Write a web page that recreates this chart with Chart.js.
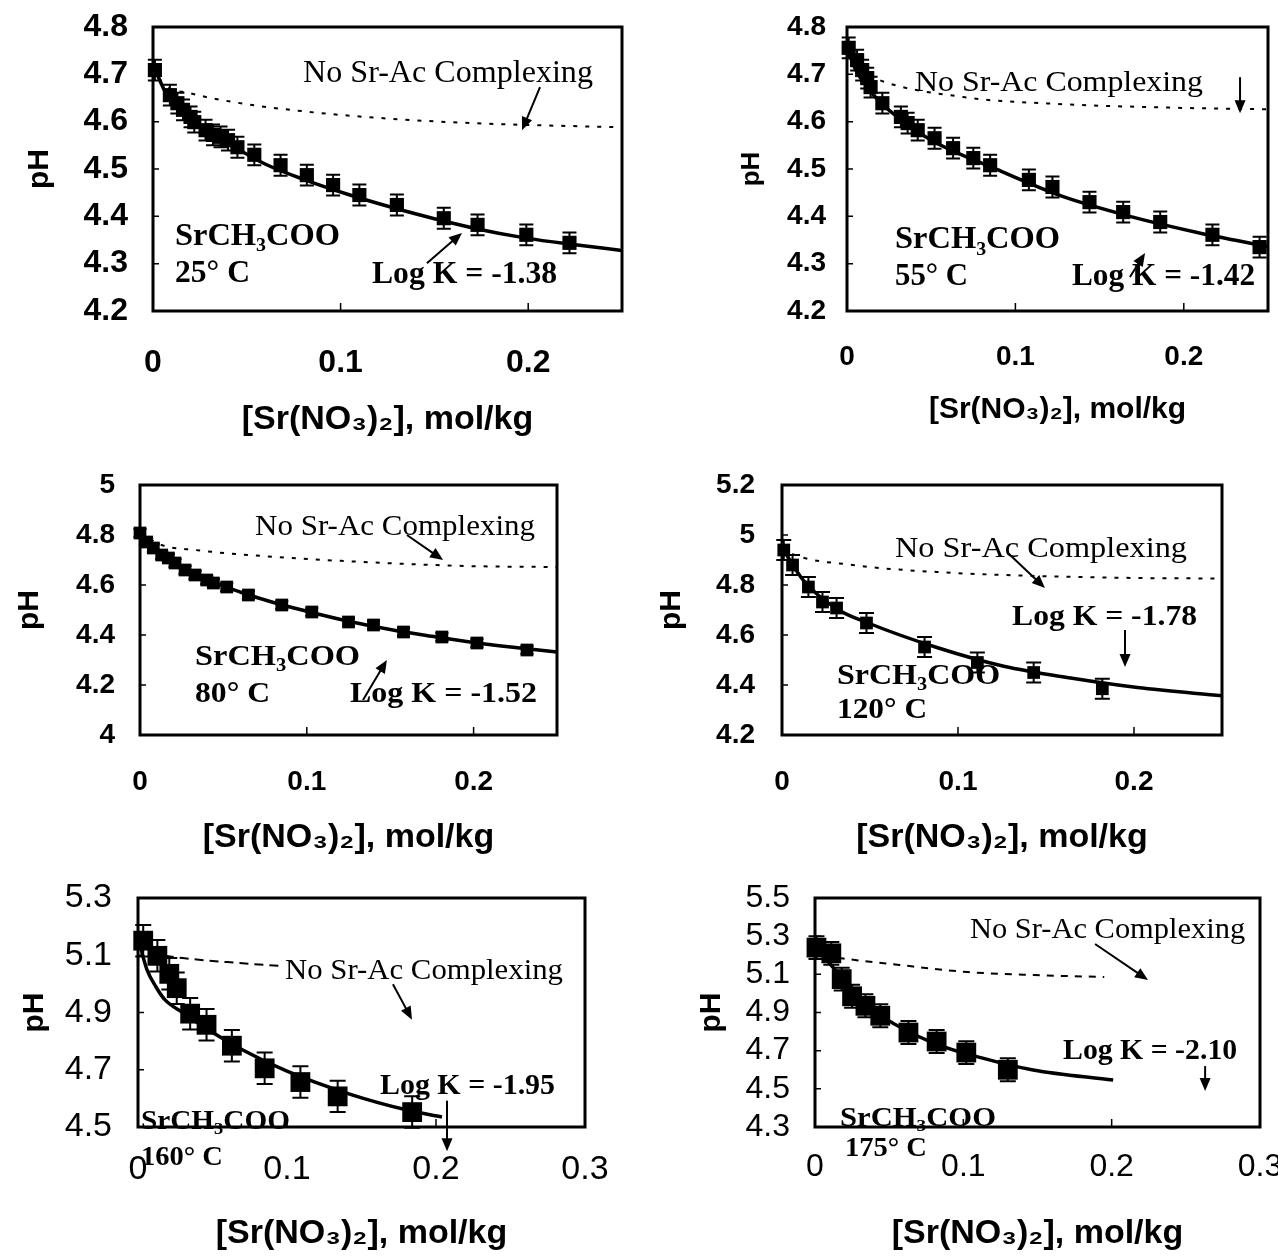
<!DOCTYPE html>
<html>
<head>
<meta charset="utf-8">
<script src="https://cdn.jsdelivr.net/npm/chart.js@4.4.1/dist/chart.umd.min.js"></script>
<style>
  html, body { margin: 0; padding: 0; background: #fff; }
  body { width: 1278px; height: 1257px; position: relative; overflow: hidden; }
  canvas { position: absolute; }
</style>
</head>
<body>
<script>
// ---- values ----
// 25 C
const x25 = [0.001, 0.009, 0.013, 0.016, 0.020, 0.022, 0.028, 0.032, 0.036, 0.040, 0.045, 0.054, 0.068, 0.082, 0.096, 0.110, 0.130, 0.155, 0.173, 0.199, 0.222];
const ph25 = [4.709, 4.656, 4.639, 4.625, 4.610, 4.599, 4.582, 4.572, 4.568, 4.561, 4.546, 4.530, 4.508, 4.487, 4.466, 4.445, 4.424, 4.396, 4.382, 4.361, 4.344];
const fitX25 = [0, 0.008, 0.019, 0.031, 0.046, 0.060, 0.081, 0.105, 0.129, 0.150, 0.171, 0.199, 0.225, 0.25];
const fitY25 = [4.72, 4.652, 4.607, 4.572, 4.540, 4.510, 4.477, 4.445, 4.417, 4.395, 4.375, 4.354, 4.340, 4.328];
const noX25 = [0, 0.005, 0.02, 0.045, 0.08, 0.12, 0.17, 0.25];
const noY25 = [4.71, 4.68, 4.66, 4.64, 4.622, 4.608, 4.597, 4.588];
const err25 = 0.022;
const xTicks25 = [0, 0.1, 0.2];
const yTicks25 = [4.2, 4.3, 4.4, 4.5, 4.6, 4.7, 4.8];
const xMax25 = 0.25;

// 55 C
const x55 = [0.001, 0.006, 0.009, 0.012, 0.014, 0.021, 0.032, 0.036, 0.042, 0.052, 0.063, 0.075, 0.085, 0.108, 0.122, 0.144, 0.164, 0.186, 0.217, 0.245];
const ph55 = [4.756, 4.730, 4.709, 4.692, 4.673, 4.639, 4.610, 4.597, 4.582, 4.565, 4.544, 4.523, 4.508, 4.477, 4.462, 4.430, 4.409, 4.388, 4.361, 4.335];
const fitX55 = [0, 0.005, 0.012, 0.02, 0.03, 0.049, 0.089, 0.128, 0.168, 0.208, 0.25];
const fitY55 = [4.755, 4.711, 4.673, 4.640, 4.610, 4.563, 4.499, 4.442, 4.400, 4.366, 4.336];
const noX55 = [0, 0.008, 0.015, 0.069, 0.128, 0.188, 0.25];
const noY55 = [4.755, 4.71, 4.694, 4.652, 4.637, 4.630, 4.626];
const err55 = 0.022;
const xTicks55 = [0, 0.1, 0.2];
const yTicks55 = [4.2, 4.3, 4.4, 4.5, 4.6, 4.7, 4.8];
const xMax55 = 0.25;

// 80 C
const x80 = [0, 0.004, 0.008, 0.013, 0.017, 0.021, 0.027, 0.033, 0.040, 0.044, 0.052, 0.065, 0.085, 0.103, 0.125, 0.140, 0.158, 0.181, 0.202, 0.232];
const ph80 = [4.808, 4.772, 4.748, 4.720, 4.708, 4.688, 4.660, 4.640, 4.620, 4.608, 4.592, 4.560, 4.520, 4.492, 4.452, 4.440, 4.412, 4.392, 4.368, 4.340];
const fitX80 = [0, 0.005, 0.013, 0.025, 0.04, 0.06, 0.08, 0.1, 0.125, 0.15, 0.175, 0.2, 0.225, 0.25];
const fitY80 = [4.81, 4.765, 4.725, 4.672, 4.622, 4.572, 4.53, 4.495, 4.455, 4.422, 4.395, 4.37, 4.35, 4.332];
const noX80 = [0, 0.013, 0.033, 0.073, 0.134, 0.195, 0.25];
const noY80 = [4.81, 4.76, 4.74, 4.716, 4.692, 4.676, 4.672];
const err80 = 0.016;
const xTicks80 = [0, 0.1, 0.2];
const yTicks80 = [4, 4.2, 4.4, 4.6, 4.8, 5];
const xMax80 = 0.25;

// 120 C
const x120 = [0.001, 0.006, 0.015, 0.023, 0.031, 0.048, 0.081, 0.111, 0.143, 0.182];
const ph120 = [4.94, 4.88, 4.792, 4.732, 4.708, 4.648, 4.552, 4.49, 4.45, 4.385];
const fitX120 = [0, 0.012, 0.031, 0.05, 0.088, 0.126, 0.164, 0.202, 0.25];
const fitY120 = [4.95, 4.82, 4.705, 4.645, 4.55, 4.475, 4.428, 4.39, 4.357];
const noX120 = [0, 0.0045, 0.04, 0.088, 0.145, 0.202, 0.25];
const noY120 = [4.95, 4.928, 4.88, 4.852, 4.836, 4.828, 4.826];
const err120 = 0.04;
const xTicks120 = [0, 0.1, 0.2];
const yTicks120 = [4.2, 4.4, 4.6, 4.8, 5, 5.2];
const xMax120 = 0.25;

// 160 C
const x160 = [0.0035, 0.013, 0.021, 0.026, 0.035, 0.046, 0.063, 0.085, 0.109, 0.134, 0.184];
const ph160 = [5.151, 5.098, 5.035, 4.985, 4.896, 4.857, 4.784, 4.705, 4.657, 4.607, 4.552];
const fitX160 = [0, 0.006, 0.012, 0.018, 0.03, 0.044, 0.07, 0.1, 0.142, 0.18, 0.204];
const fitY160 = [5.16, 5.05, 4.99, 4.945, 4.9, 4.85, 4.77, 4.695, 4.615, 4.56, 4.535];
const noX160 = [0.008, 0.03, 0.06, 0.097];
const noY160 = [5.105, 5.09, 5.076, 5.062];
const err160 = 0.055;
const xTicks160 = [0, 0.1, 0.2, 0.3];
const yTicks160 = [4.5, 4.7, 4.9, 5.1, 5.3];
const xMax160 = 0.3;

// 175 C
const x175 = [0.001, 0.011, 0.018, 0.025, 0.034, 0.044, 0.063, 0.082, 0.102, 0.13];
const ph175 = [5.24, 5.21, 5.075, 4.985, 4.935, 4.883, 4.795, 4.748, 4.69, 4.6];
const fitX175 = [0, 0.006, 0.012, 0.024, 0.046, 0.08, 0.113, 0.147, 0.201];
const fitY175 = [5.24, 5.19, 5.138, 5.018, 4.876, 4.74, 4.661, 4.599, 4.546];
const noX175 = [0.006, 0.012, 0.057, 0.103, 0.148, 0.195];
const noY175 = [5.2, 5.191, 5.149, 5.112, 5.096, 5.086];
const err175 = 0.06;
const xTicks175 = [0, 0.1, 0.2, 0.3];
const yTicks175 = [4.3, 4.5, 4.7, 4.9, 5.1, 5.3, 5.5];
const xMax175 = 0.3;

const SANS = "'Liberation Sans', Arial, Helvetica, sans-serif";
const SERIF = "'Liberation Serif', 'Times New Roman', Times, serif";
const X_TITLE = "[Sr(NO\u2083)\u2082], mol/kg";
const NO_CPX = "No Sr-Ac Complexing";
const SALT = ["SrCH", "_3", "COO"];

// text notes: parts, x0, x1 (data units), y (data units), font size, bold
function note(parts, x0, x1, y, size, bold) {
  return { parts: Array.isArray(parts) ? parts : [parts], x0, x1, y, size, bold };
}

// canvas: [left, top, width, height]; box: [left, top, right, bottom] (page px)
const panels = [
  {
    d: { x: x25, y: ph25, fitX: fitX25, fitY: fitY25, noX: noX25, noY: noY25, err: err25, xTicks: xTicks25, yTicks: yTicks25, xMax: xMax25 },
    L: { canvas: [0, -30, 640, 470], box: [153, 27, 622, 311], yLabRight: 128, xLabY: 363, titleY: 420, phX: 40,
         tickSize: 32, tickBold: true, titleSize: 34, phSize: 30, mark: 10, cap: 14, fitW: 3.5, dash: [4, 8] },
    notes: [
      note(NO_CPX, 0.080, 0.2345, 4.705, 31, false),
      note(SALT, 0.0117, 0.0997, 4.361, 31, true),
      note("25\u00b0 C", 0.0117, 0.0517, 4.282, 31, true),
      note("Log K = -1.38", 0.1167, 0.2154, 4.280, 31, true),
    ],
    arrows: [[0.2063, 4.673, 0.1967, 4.582], [0.146, 4.301, 0.1647, 4.365]],
  },
  {
    d: { x: x55, y: ph55, fitX: fitX55, fitY: fitY55, noX: noX55, noY: noY55, err: err55, xTicks: xTicks55, yTicks: yTicks55, xMax: xMax55 },
    L: { canvas: [640, -30, 638, 470], box: [847, 27, 1268, 311], yLabRight: 826, xLabY: 357, titleY: 410, phX: 752,
         tickSize: 28, tickBold: true, titleSize: 30, phSize: 26, mark: 10, cap: 14, fitW: 3.5, dash: [4, 8] },
    notes: [
      note(NO_CPX, 0.0404, 0.2114, 4.686, 30, false),
      note(SALT, 0.0285, 0.1265, 4.354, 31, true),
      note("55\u00b0 C", 0.0285, 0.0719, 4.276, 31, true),
      note("Log K = -1.42", 0.1336, 0.2423, 4.276, 31, true),
    ],
    arrows: [[0.2334, 4.694, 0.2334, 4.618], [0.168, 4.272, 0.177, 4.3225]],
  },
  {
    d: { x: x80, y: ph80, fitX: fitX80, fitY: fitY80, noX: noX80, noY: noY80, err: err80, xTicks: xTicks80, yTicks: yTicks80, xMax: xMax80 },
    L: { canvas: [0, 430, 640, 450], box: [140, 485, 557, 735], yLabRight: 115, xLabY: 782, titleY: 838, phX: 30,
         tickSize: 28, tickBold: true, titleSize: 34, phSize: 30, mark: 9, cap: 13, fitW: 3.5, dash: [4, 8] },
    notes: [
      note(NO_CPX, 0.069, 0.2368, 4.84, 30, false),
      note(SALT, 0.033, 0.1319, 4.32, 30, true),
      note("80\u00b0 C", 0.033, 0.078, 4.172, 30, true),
      note("Log K = -1.52", 0.1259, 0.238, 4.172, 30, true),
    ],
    arrows: [[0.160, 4.80, 0.1817, 4.70], [0.1337, 4.14, 0.148, 4.30]],
  },
  {
    d: { x: x120, y: ph120, fitX: fitX120, fitY: fitY120, noX: noX120, noY: noY120, err: err120, xTicks: xTicks120, yTicks: yTicks120, xMax: xMax120 },
    L: { canvas: [640, 430, 638, 450], box: [782, 485, 1222, 735], yLabRight: 755, xLabY: 782, titleY: 838, phX: 672,
         tickSize: 28, tickBold: true, titleSize: 34, phSize: 30, mark: 9, cap: 15, fitW: 3.5, dash: [4, 8] },
    notes: [
      note(NO_CPX, 0.0642, 0.2301, 4.952, 30, false),
      note("Log K = -1.78", 0.1307, 0.2358, 4.68, 30, true),
      note(SALT, 0.03125, 0.1239, 4.444, 30, true),
      note("120\u00b0 C", 0.03125, 0.0824, 4.308, 30, true),
    ],
    arrows: [[0.1284, 4.928, 0.1494, 4.788], [0.1949, 4.62, 0.1949, 4.472]],
  },
  {
    d: { x: x160, y: ph160, fitX: fitX160, fitY: fitY160, noX: noX160, noY: noY160, err: err160, xTicks: xTicks160, yTicks: yTicks160, xMax: xMax160 },
    L: { canvas: [0, 840, 640, 417], box: [138, 898, 585, 1127], yLabRight: 112, xLabY: 1170, titleY: 1234, phX: 35,
         tickSize: 34, tickBold: false, titleSize: 34, phSize: 30, mark: 14, cap: 16, fitW: 3.5, dash: [9, 6] },
    notes: [
      note(NO_CPX, 0.0987, 0.2852, 5.052, 29, false),
      note("Log K = -1.95", 0.1624, 0.2799, 4.649, 29, true),
      note(SALT, 0.002, 0.102, 4.525, 27, true),
      note("160\u00b0 C", 0.002, 0.057, 4.397, 27, true),
    ],
    arrows: [[0.1711, 4.999, 0.1839, 4.875], [0.2074, 4.592, 0.2074, 4.415]],
  },
  {
    d: { x: x175, y: ph175, fitX: fitX175, fitY: fitY175, noX: noX175, noY: noY175, err: err175, xTicks: xTicks175, yTicks: yTicks175, xMax: xMax175 },
    L: { canvas: [640, 840, 680, 417], box: [815, 898, 1260, 1127], yLabRight: 790, xLabY: 1167, titleY: 1234, phX: 712,
         tickSize: 32, tickBold: false, titleSize: 34, phSize: 30, mark: 14, cap: 16, fitW: 3.5, dash: [7, 7] },
    notes: [
      note(NO_CPX, 0.1045, 0.29, 5.338, 29, false),
      note("Log K = -2.10", 0.1672, 0.2846, 4.709, 29, true),
      note(SALT, 0.0169, 0.122, 4.352, 27, true),
      note("175\u00b0 C", 0.0202, 0.0755, 4.195, 27, true),
    ],
    arrows: [[0.1888, 5.259, 0.2245, 5.07], [0.263, 4.619, 0.263, 4.488]],
  },
];

function pts(xs, ys) {
  return xs.map((x, i) => ({ x: x, y: ys[i] }));
}

function fmt(v) {
  return String(parseFloat(Number(v).toFixed(2)));
}

// draws text (with "_" parts as subscripts) stretched between two x pixels
function drawParts(ctx, parts, px0, px1, pyMid, size, bold) {
  const w = bold ? "bold " : "";
  const mainFont = w + size + "px " + SERIF;
  const subFont = w + Math.round(size * 0.62) + "px " + SERIF;
  let natural = 0;
  parts.forEach((p) => {
    const sub = p[0] === "_";
    ctx.font = sub ? subFont : mainFont;
    natural += ctx.measureText(sub ? p.slice(1) : p).width;
  });
  const sx = (px1 - px0) / natural;
  ctx.save();
  ctx.translate(px0, pyMid + size * 0.33);
  ctx.scale(sx, 1);
  ctx.textAlign = "left";
  ctx.textBaseline = "alphabetic";
  ctx.fillStyle = "#000";
  let cx = 0;
  parts.forEach((p) => {
    const sub = p[0] === "_";
    const t = sub ? p.slice(1) : p;
    ctx.font = sub ? subFont : mainFont;
    ctx.fillText(t, cx, sub ? size * 0.2 : 0);
    cx += ctx.measureText(t).width;
  });
  ctx.restore();
}

function drawArrow(ctx, x1, y1, x2, y2) {
  const ang = Math.atan2(y2 - y1, x2 - x1);
  const head = 13, hw = 5.5;
  const c = Math.cos(ang), s = Math.sin(ang);
  ctx.beginPath();
  ctx.moveTo(x1, y1);
  ctx.lineTo(x2 - head * 0.7 * c, y2 - head * 0.7 * s);
  ctx.stroke();
  ctx.beginPath();
  ctx.moveTo(x2, y2);
  ctx.lineTo(x2 - head * c + hw * s, y2 - head * s - hw * c);
  ctx.lineTo(x2 - head * c - hw * s, y2 - head * s + hw * c);
  ctx.closePath();
  ctx.fill();
}

function decorPlugin(p, idx) {
  return {
    id: "decor" + idx,
    afterDatasetsDraw(chart) {
      const { ctx } = chart;
      const xs = chart.scales.x, ys = chart.scales.y;
      const hw = p.L.cap / 2;
      ctx.save();
      ctx.strokeStyle = "#000";
      ctx.lineWidth = 2;
      p.d.x.forEach((v, i) => {
        const px = xs.getPixelForValue(v);
        const yt = ys.getPixelForValue(p.d.y[i] + p.d.err);
        const yb = ys.getPixelForValue(p.d.y[i] - p.d.err);
        ctx.beginPath();
        ctx.moveTo(px, yt); ctx.lineTo(px, yb);
        ctx.moveTo(px - hw, yt); ctx.lineTo(px + hw, yt);
        ctx.moveTo(px - hw, yb); ctx.lineTo(px + hw, yb);
        ctx.stroke();
      });
      ctx.restore();
    },
    afterDraw(chart) {
      const { ctx, chartArea: a } = chart;
      const xs = chart.scales.x, ys = chart.scales.y;
      ctx.save();
      ctx.strokeStyle = "#000";
      ctx.fillStyle = "#000";
      // small inward ticks
      ctx.lineWidth = 1.5;
      ctx.beginPath();
      ys.ticks.forEach((t) => {
        if (t.value <= ys.min || t.value >= ys.max) return;
        const py = ys.getPixelForValue(t.value);
        ctx.moveTo(a.left, py); ctx.lineTo(a.left + 6, py);
      });
      xs.ticks.forEach((t) => {
        if (t.value <= xs.min || t.value >= xs.max) return;
        const px = xs.getPixelForValue(t.value);
        ctx.moveTo(px, a.bottom); ctx.lineTo(px, a.bottom - 8);
      });
      ctx.stroke();
      // plot frame
      ctx.lineWidth = 3;
      ctx.strokeRect(a.left, a.top, a.right - a.left, a.bottom - a.top);
      // notes and arrows
      p.notes.forEach((n) => {
        drawParts(ctx, n.parts, xs.getPixelForValue(n.x0), xs.getPixelForValue(n.x1), ys.getPixelForValue(n.y), n.size, n.bold);
      });
      ctx.lineWidth = 2;
      p.arrows.forEach((r) => {
        drawArrow(ctx, xs.getPixelForValue(r[0]), ys.getPixelForValue(r[1]), xs.getPixelForValue(r[2]), ys.getPixelForValue(r[3]));
      });
      ctx.restore();
    },
  };
}

function makePanel(p, idx) {
  const L = p.L, d = p.d;
  const [cl, ct, cw, ch] = L.canvas;
  const [bl, bt, br, bb] = L.box;
  const canvas = document.createElement("canvas");
  canvas.width = cw;
  canvas.height = ch;
  canvas.style.left = cl + "px";
  canvas.style.top = ct + "px";
  document.body.appendChild(canvas);

  const tickFont = { family: SANS, size: L.tickSize, weight: L.tickBold ? "bold" : "normal" };
  const tickLH = L.tickSize * 1.2;
  const titleLH = L.titleSize * 1.2;
  const phLH = L.phSize * 1.2;

  return new Chart(canvas, {
    type: "line",
    data: {
      datasets: [
        {
          label: "measured",
          data: pts(d.x, d.y),
          showLine: false,
          pointStyle: "rect",
          pointRadius: L.mark,
          pointBackgroundColor: "#000",
          pointBorderColor: "#000",
          pointBorderWidth: 0,
          clip: false,
          order: 0,
        },
        {
          label: "fit",
          data: pts(d.fitX, d.fitY),
          borderColor: "#000",
          borderWidth: L.fitW,
          pointRadius: 0,
          cubicInterpolationMode: "monotone",
          order: 1,
        },
        {
          label: "no complexing",
          data: pts(d.noX, d.noY),
          borderColor: "#000",
          borderWidth: 2,
          borderDash: L.dash,
          pointRadius: 0,
          cubicInterpolationMode: "monotone",
          order: 2,
        },
      ],
    },
    options: {
      responsive: false,
      animation: false,
      devicePixelRatio: 1,
      layout: { padding: { left: 0, top: bt - ct, right: cl + cw - br, bottom: 0 } },
      plugins: { legend: { display: false }, tooltip: { enabled: false } },
      scales: {
        x: {
          type: "linear",
          min: 0,
          max: d.xMax,
          afterBuildTicks: (s) => { s.ticks = d.xTicks.map((v) => ({ value: v })); },
          afterFit: (s) => { s.height = ct + ch - bb; },
          grid: { display: false, drawTicks: false },
          border: { display: false },
          ticks: {
            padding: L.xLabY - bb - tickLH / 2,
            font: tickFont,
            color: "#000",
            maxRotation: 0,
            autoSkip: false,
            callback: fmt,
          },
          title: {
            display: true,
            text: X_TITLE,
            color: "#000",
            font: { family: SANS, size: L.titleSize, weight: "bold" },
            padding: { top: 0, bottom: ct + ch - L.titleY - titleLH / 2 },
          },
        },
        y: {
          type: "linear",
          min: d.yTicks[0],
          max: d.yTicks[d.yTicks.length - 1],
          afterBuildTicks: (s) => { s.ticks = d.yTicks.map((v) => ({ value: v })); },
          afterFit: (s) => { s.width = bl - cl; },
          grid: { display: false, drawTicks: false },
          border: { display: false },
          ticks: {
            padding: bl - L.yLabRight,
            font: tickFont,
            color: "#000",
            autoSkip: false,
            callback: fmt,
          },
          title: {
            display: true,
            text: "pH",
            color: "#000",
            font: { family: SANS, size: L.phSize, weight: "bold" },
            padding: { top: L.phX - cl - phLH / 2, bottom: 0 },
          },
        },
      },
    },
    plugins: [decorPlugin(p, idx)],
  });
}

window.onload = function () {
  panels.forEach((p, i) => makePanel(p, i));
};
</script>
</body>
</html>
